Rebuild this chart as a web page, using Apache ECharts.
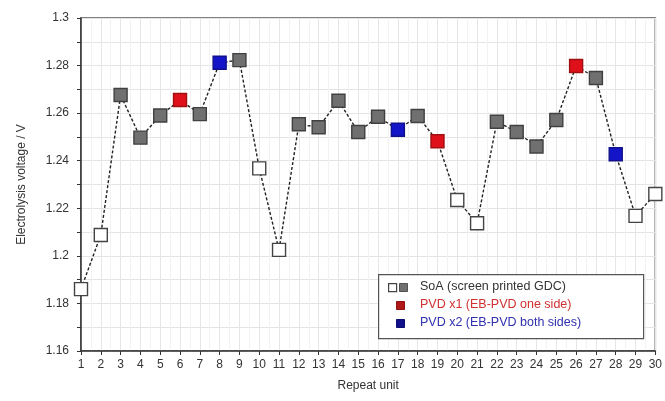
<!DOCTYPE html>
<html><head><meta charset="utf-8">
<script src="https://cdn.jsdelivr.net/npm/echarts@6/dist/echarts.min.js"></script>
<style>html,body{margin:0;padding:0;background:#fff}#c{width:665px;height:401px}</style>
</head><body><div id="c"></div>
<script>
var units = [1,2,3,4,5,6,7,8,9,10,11,12,13,14,15,16,17,18,19,20,21,22,23,24,25,26,27,28,29,30];
var voltage = [1.186,1.2088,1.2676,1.2497,1.259,1.2655,1.2596,1.2812,1.2823,1.2368,1.2025,1.2553,1.2541,1.2652,1.2521,1.2585,1.253,1.2588,1.2482,1.2235,1.2137,1.2564,1.2521,1.246,1.2571,1.2798,1.2748,1.2427,1.2168,1.226];
var kind = ['open','open','soa','soa','soa','pvd1','soa','pvd2','soa','open','open','soa','soa','soa','soa','soa','pvd2','soa','pvd1','open','open','soa','soa','soa','soa','pvd1','soa','pvd2','open','open'];
var legendLabels = ['SoA (screen printed GDC)','PVD x1 (EB-PVD one side)','PVD x2 (EB-PVD both sides)'];
var yName = 'Electrolysis voltage / V';
var xName = 'Repeat unit';

var styles = {
  open: {color:'#ffffff', borderColor:'#444444', borderWidth:1.4},
  soa: {color:'#707070', borderColor:'#404040', borderWidth:1.4},
  pvd1: {color:'#e0101a', borderColor:'#a01010', borderWidth:1.4},
  pvd2: {color:'#1414c8', borderColor:'#10108a', borderWidth:1.4}
};
var data = units.map(function(u,i){ return {value:[u, voltage[i]], itemStyle: styles[kind[i]]}; });

var chart = echarts.init(document.getElementById('c'), null, {renderer:'canvas'});
var font = 'Liberation Sans, Arial, sans-serif';
var lx = 378, ly = 274;
chart.setOption({
  animation:false,
  grid:{left:81, top:18, right:8, bottom:50, show:true, borderColor:'#555', borderWidth:1.5, backgroundColor:'#fff'},
  xAxis:{type:'value', min:1, max:30, interval:1, name:xName, nameLocation:'middle', nameGap:29,
    nameTextStyle:{fontFamily:font, fontSize:12, color:'#333'},
    axisLine:{lineStyle:{color:'#333', width:1.5}},
    axisTick:{show:true, length:4, lineStyle:{color:'#333'}},
    axisLabel:{fontFamily:font, fontSize:12, color:'#333', margin:8},
    splitLine:{show:true, lineStyle:{color:'#e6e6e6', width:1}},
    minorTick:{show:false, splitNumber:2},
    minorSplitLine:{show:true, lineStyle:{color:'#f2f2f2', width:1}}
  },
  yAxis:{type:'value', min:1.16, max:1.3, interval:0.02, name:yName, nameLocation:'middle', nameGap:53,
    nameTextStyle:{fontFamily:font, fontSize:12, color:'#333'},
    axisLine:{show:true, lineStyle:{color:'#333', width:1.5}},
    axisTick:{show:true, length:4, lineStyle:{color:'#333'}},
    minorTick:{show:true, splitNumber:2, length:4, lineStyle:{color:'#333'}},
    axisLabel:{fontFamily:font, fontSize:12, color:'#333', margin:12, formatter:function(v){return String(Number(v.toFixed(2)));}},
    splitLine:{show:true, lineStyle:{color:'#e4e4e4', width:1}},
    minorSplitLine:{show:true, lineStyle:{color:'#e4e4e4', width:1}}
  },
  series:[{type:'line', data:data, symbol:'rect', symbolSize:13, showAllSymbol:true,
    lineStyle:{color:'#222', width:1.4, type:[3,2]}, z:3}],
  graphic:[
    {type:'rect', left:lx, top:ly, shape:{width:265, height:64}, style:{fill:'#fff', stroke:'#555', lineWidth:1.2}, z:10},
    {type:'rect', left:lx+10, top:ly+9, shape:{width:8, height:8}, style:{fill:'#fff', stroke:'#444', lineWidth:1.2}, z:11},
    {type:'rect', left:lx+21, top:ly+9, shape:{width:8, height:8}, style:{fill:'#707070', stroke:'#505050', lineWidth:1}, z:11},
    {type:'rect', left:lx+18, top:ly+27, shape:{width:8, height:8}, style:{fill:'#b01818', stroke:'#901010', lineWidth:1}, z:11},
    {type:'rect', left:lx+18, top:ly+45, shape:{width:8, height:8}, style:{fill:'#10108a', stroke:'#0c0c70', lineWidth:1}, z:11},
    {type:'text', left:lx+42, top:ly+6, style:{text:legendLabels[0], fill:'#333', font:'12.5px '+font}, z:11},
    {type:'text', left:lx+42, top:ly+24, style:{text:legendLabels[1], fill:'#d03030', font:'12.5px '+font}, z:11},
    {type:'text', left:lx+42, top:ly+42, style:{text:legendLabels[2], fill:'#3030b0', font:'12.5px '+font}, z:11}
  ]
});
</script></body></html>
